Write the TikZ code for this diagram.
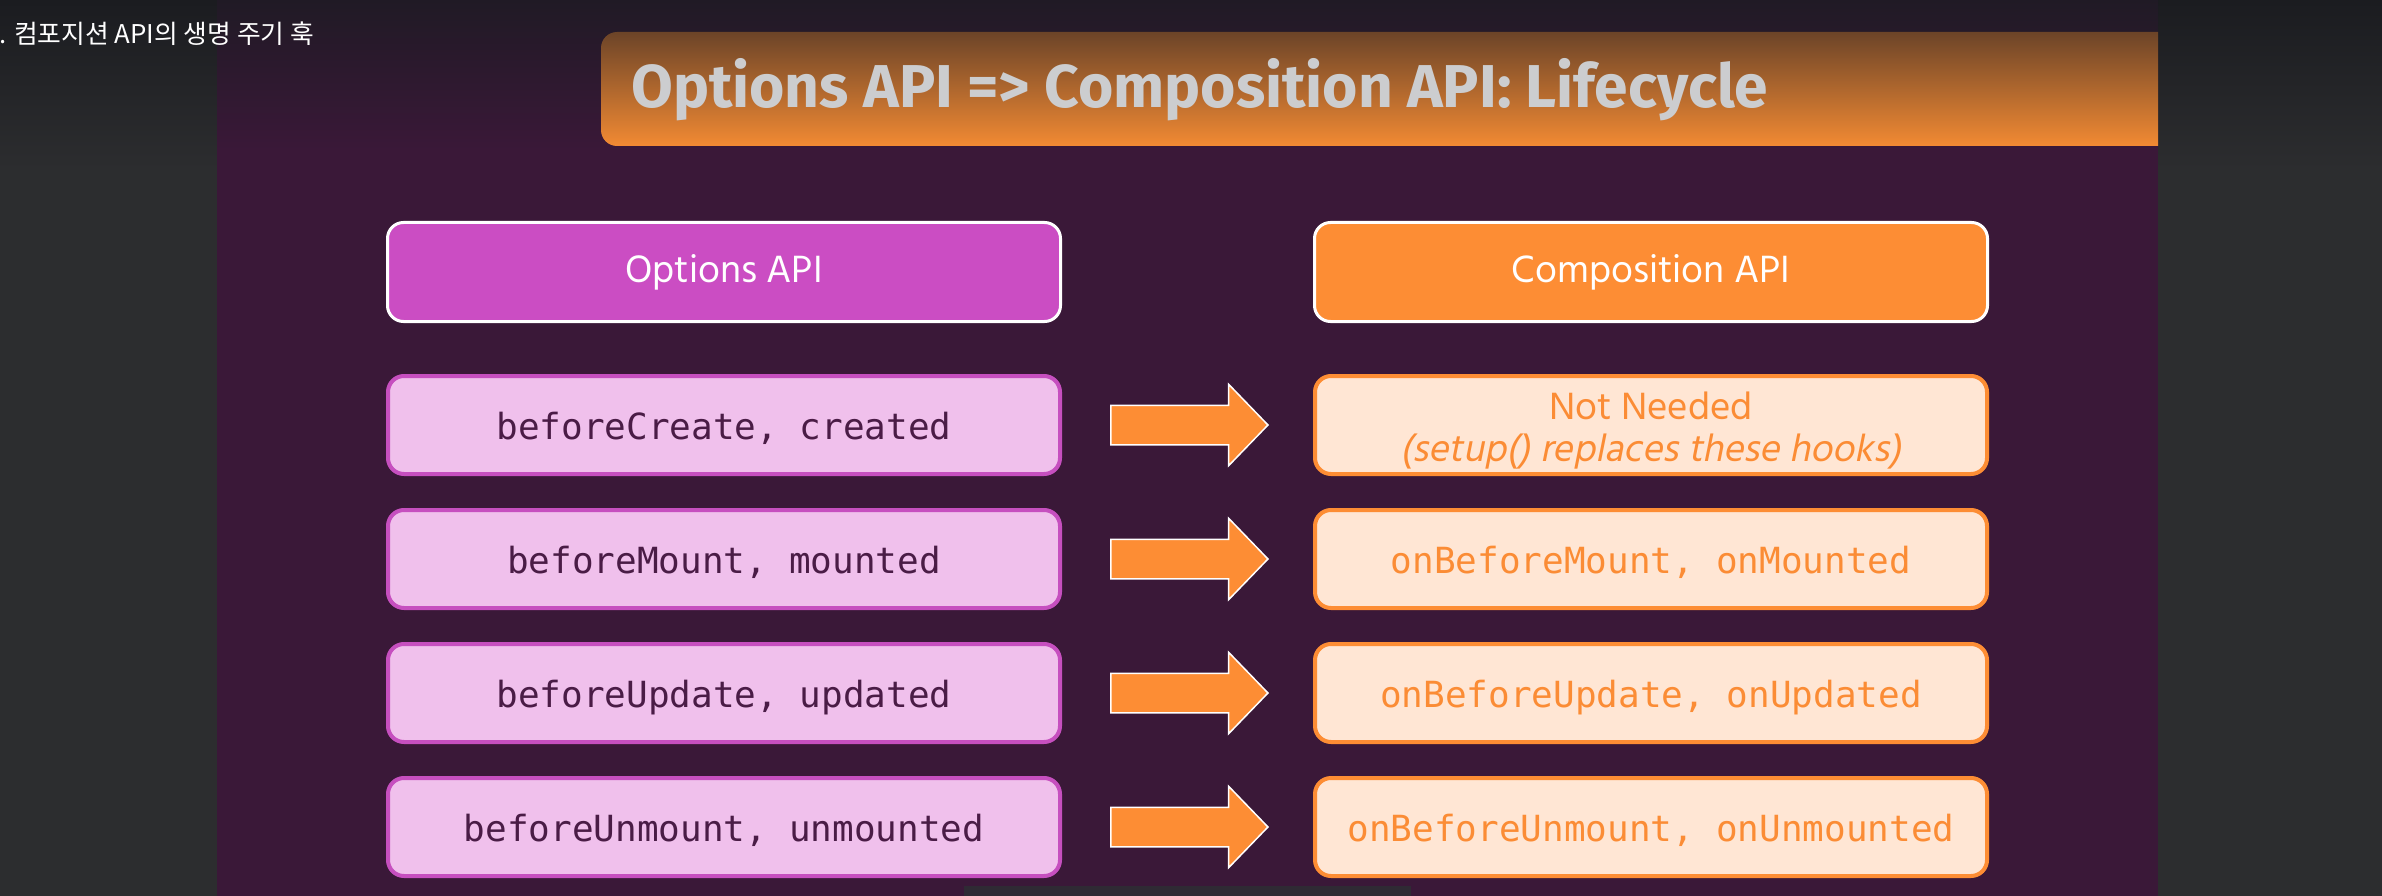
\documentclass[tikz,border=0pt]{standalone}
\usepackage{fontspec}
\usetikzlibrary{shapes.arrows,calc}
\newfontfamily\hindf{Hind Madurai}
\newfontfamily\hindi{Hind Madurai}[FakeSlant=0.2]
\newfontfamily\monof{DejaVu Sans Mono}
\newfontfamily\titlef{Fira Sans}
\newfontfamily\krf{Noto Sans CJK KR}
\definecolor{sidegray}{HTML}{2C2D2F}
\definecolor{topdark}{HTML}{1B1C20}
\definecolor{slidebg}{HTML}{3A1838}
\definecolor{slidetop}{HTML}{201A25}
\definecolor{bantop}{HTML}{6C4428}
\definecolor{banbot}{HTML}{F28A33}
\definecolor{titlegray}{HTML}{CCCDCF}
\definecolor{optmag}{HTML}{CB4DC3}
\definecolor{optlight}{HTML}{F0C0EC}
\definecolor{optborder}{HTML}{C64FBF}
\definecolor{opttext}{HTML}{4A1C46}
\definecolor{comporange}{HTML}{FD8D34}
\definecolor{complight}{HTML}{FFE6D4}
\definecolor{comptext}{HTML}{FB8C35}
\definecolor{barrect}{HTML}{2F2A34}
\begin{document}
\begin{tikzpicture}[x=1pt,y=1pt,
  hdr/.style={rounded corners=16pt, line width=3pt, draw=white, minimum width=673pt, minimum height=99pt, inner sep=0pt, text=white, font=\hindf\fontsize{39}{42}\selectfont},
  ophdr/.style={hdr, fill=optmag},
  cphdr/.style={hdr, fill=comporange},
  rowbox/.style={rounded corners=16pt, line width=4pt, minimum width=672pt, minimum height=98pt, inner sep=0pt, font=\monof\fontsize{36}{40}\selectfont},
  monorow/.style={text height=30pt, text depth=2pt},
  oprow/.style={rowbox, monorow, fill=optlight, draw=optborder, text=opttext},
  cprow/.style={rowbox, fill=complight, draw=comporange, text=comptext},
  blockarrow/.style={single arrow, anchor=tail, fill=comporange, draw=white, line width=1.5pt, minimum height=157pt, minimum width=80pt, single arrow head extend=21pt, single arrow tip angle=92, inner xsep=0pt, inner ysep=19pt},
  titletext/.style={anchor=base west, inner sep=0pt, text=titlegray, font=\titlef\bfseries\fontsize{60.5}{64}\selectfont},
  caption/.style={anchor=base west, inner sep=0pt, text=white, font=\krf\fontsize{25.8}{28}\selectfont}
]
\useasboundingbox (0,0) rectangle (2382,-896);
% backgrounds
\fill[sidegray] (0,0) rectangle (2382,-896);
\shade[top color=topdark, bottom color=sidegray] (0,0) rectangle (2382,-170);
\fill[slidebg] (217,0) rectangle (2158,-896);
\shade[top color=slidetop, bottom color=slidebg] (217,0) rectangle (2158,-150);
% title banner
\begin{scope}
  \clip (217,0) rectangle (2158,-896);
  \shade[top color=bantop, bottom color=banbot, rounded corners=16pt] (601,-32) rectangle (2200,-146);
\end{scope}
\node[titletext] (title) at (631,-108) {Options API => Composition API: Lifecycle};
\node[caption] (cap) at (-1,-44) {. 컴포지션 API의 생명 주기 훅};
% headers
\node[ophdr] (hL) at (724,-272) {Options API};
\node[cphdr] (hR) at (1651,-272) {Composition API};
% rows
\node[oprow] (L1) at (724,-425) {beforeCreate, created};
\node[oprow] (L2) at (724,-559) {beforeMount, mounted};
\node[oprow] (L3) at (724,-693) {beforeUpdate, updated};
\node[oprow] (L4) at (724,-827) {beforeUnmount, unmounted};
\node[cprow, align=center, font=\hindf\fontsize{39}{42}\selectfont] (R1) at (1651,-425) {\rule{0pt}{39pt}Not Needed\\{\hindi (setup() replaces these hooks)}};
\node[cprow, monorow] (R2) at (1651,-559) {onBeforeMount, onMounted};
\node[cprow, monorow] (R3) at (1651,-693) {onBeforeUpdate, onUpdated};
\node[cprow, monorow] (R4) at (1651,-827) {onBeforeUnmount, onUnmounted};
% arrows
\path (L1.east) -- node[blockarrow, pos=0.192] (a1) {} (R1.west);
\path (L2.east) -- node[blockarrow, pos=0.192] (a2) {} (R2.west);
\path (L3.east) -- node[blockarrow, pos=0.192] (a3) {} (R3.west);
\path (L4.east) -- node[blockarrow, pos=0.192] (a4) {} (R4.west);
% bottom bar
\fill[barrect] (964,-886) rectangle (1411,-896);
\end{tikzpicture}
\end{document}
